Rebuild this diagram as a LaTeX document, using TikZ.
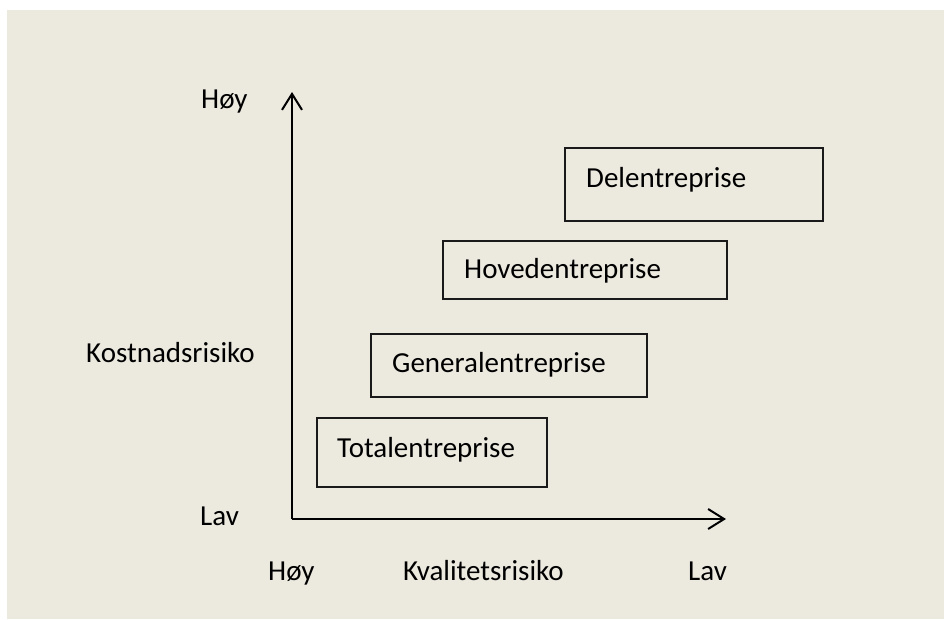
\documentclass[tikz,border=0pt]{standalone}
\usepackage{fontspec}
\setmainfont{Carlito}
\usetikzlibrary{arrows.meta}
\definecolor{paper}{HTML}{ECE9DF}
\definecolor{ink}{HTML}{1A1A1A}
\begin{document}
\begin{tikzpicture}[x=1pt,y=-1pt,
  lbl/.style={anchor=base west,inner sep=0pt,font=\fontsize{29}{34}\selectfont,text=black},
  box/.style={draw=ink,line width=1.5pt,inner sep=0pt},
  axis/.style={line width=2pt,draw=black,-{Straight Barb[length=16pt,width=20pt,line width=2pt]}}]
  % canvas
  \useasboundingbox (0,0) rectangle (944,619);
  \fill[white] (0,0) rectangle (944,619);
  \fill[paper] (7,10) rectangle (944,619);

  % axes
  \coordinate (origin) at (292,519);
  \coordinate (ytip) at (292,92);
  \coordinate (xtip) at (726,519);
  \draw[axis] (origin) -- (ytip);
  \draw[axis] (origin) -- (xtip);

  % axis labels
  \node[lbl] (yhigh) at (201,108) {Høy};
  \node[lbl] (ytitle) at (86,362) {Kostnadsrisiko};
  \node[lbl] (ylow) at (200,525) {Lav};
  \node[lbl] (xhigh) at (268,580) {Høy};
  \node[lbl] (xtitle) at (403,580) {Kvalitetsrisiko};
  \node[lbl] (xlow) at (688,580) {Lav};

  % contract forms
  \node[box,minimum width=258pt,minimum height=73pt] (del) at (694,184.5) {};
  \node[lbl] (deltxt) at (586,187) {Delentreprise};
  \node[box,minimum width=284pt,minimum height=58pt] (hov) at (585,270) {};
  \node[lbl] (hovtxt) at (464,278) {Hovedentreprise};
  \node[box,minimum width=276pt,minimum height=63pt] (gen) at (509,365.5) {};
  \node[lbl] (gentxt) at (392,372) {Generalentreprise};
  \node[box,minimum width=230pt,minimum height=69pt] (tot) at (432,452.5) {};
  \node[lbl] (tottxt) at (337,457) {Totalentreprise};
\end{tikzpicture}
\end{document}
